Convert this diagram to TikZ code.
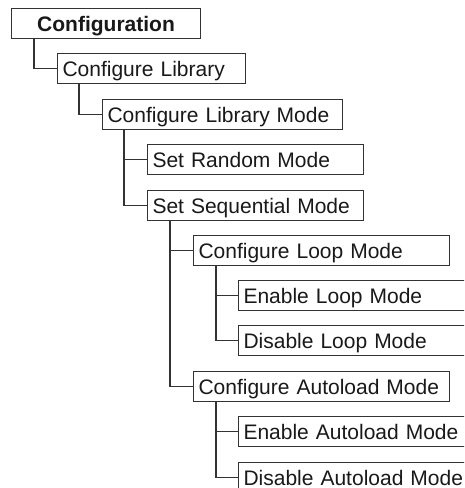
\documentclass[tikz,border=0pt]{standalone}
\usepackage{fontspec}
\setmainfont{Liberation Sans}
\begin{document}
\begin{tikzpicture}[x=1pt,y=-1pt,
  line width=1.1pt, draw=black!80,
  box/.style={draw=black!80, fill=white, anchor=north west, minimum height=30pt,
    inner xsep=5pt, inner ysep=0pt, text height=18pt, text depth=3pt,
    font=\fontsize{21}{25}\selectfont, text=black!90, align=left},
  conn/.style={draw=black!80, line width=1.1pt}]
\useasboundingbox (0,0) rectangle (464,488);
\clip (0,0) rectangle (464,488);
\node[box, align=center, text width=179pt, font=\fontsize{21}{25}\selectfont\bfseries] (cfg) at (11,8) {Configuration};
\node[box, text width=178pt] (cl) at (57,53) {Configure Library};
\node[box, text width=230pt] (clm) at (102,99) {Configure Library Mode};
\node[box, text width=206pt] (srm) at (147,144) {Set Random Mode};
\node[box, text width=206pt] (ssm) at (147,190) {Set Sequential Mode};
\node[box, text width=246pt] (clp) at (193,235) {Configure Loop Mode};
\node[box, text width=230pt] (elm) at (238,280) {Enable Loop Mode};
\node[box, text width=230pt] (dlm) at (238,325) {Disable Loop Mode};
\node[box, text width=246pt] (cam) at (193,371) {Configure Autoload Mode};
\node[box, text width=230pt] (eam) at (238,416) {Enable Autoload Mode};
\node[box, text width=230pt] (dam) at (238,462) {Disable Autoload Mode};
\draw[conn] ([xshift=23pt]cfg.south west) |- (cl.west);
\draw[conn] ([xshift=22pt]cl.south west) |- (clm.west);
\draw[conn] ([xshift=22pt]clm.south west) |- (srm.west);
\draw[conn] ([xshift=22pt]clm.south west) |- (ssm.west);
\draw[conn] ([xshift=23pt]ssm.south west) |- (clp.west);
\draw[conn] ([xshift=23pt]ssm.south west) |- (cam.west);
\draw[conn] ([xshift=23pt]clp.south west) |- (elm.west);
\draw[conn] ([xshift=23pt]clp.south west) |- (dlm.west);
\draw[conn] ([xshift=23pt]cam.south west) |- (eam.west);
\draw[conn] ([xshift=23pt]cam.south west) |- (dam.west);
\end{tikzpicture}
\end{document}
